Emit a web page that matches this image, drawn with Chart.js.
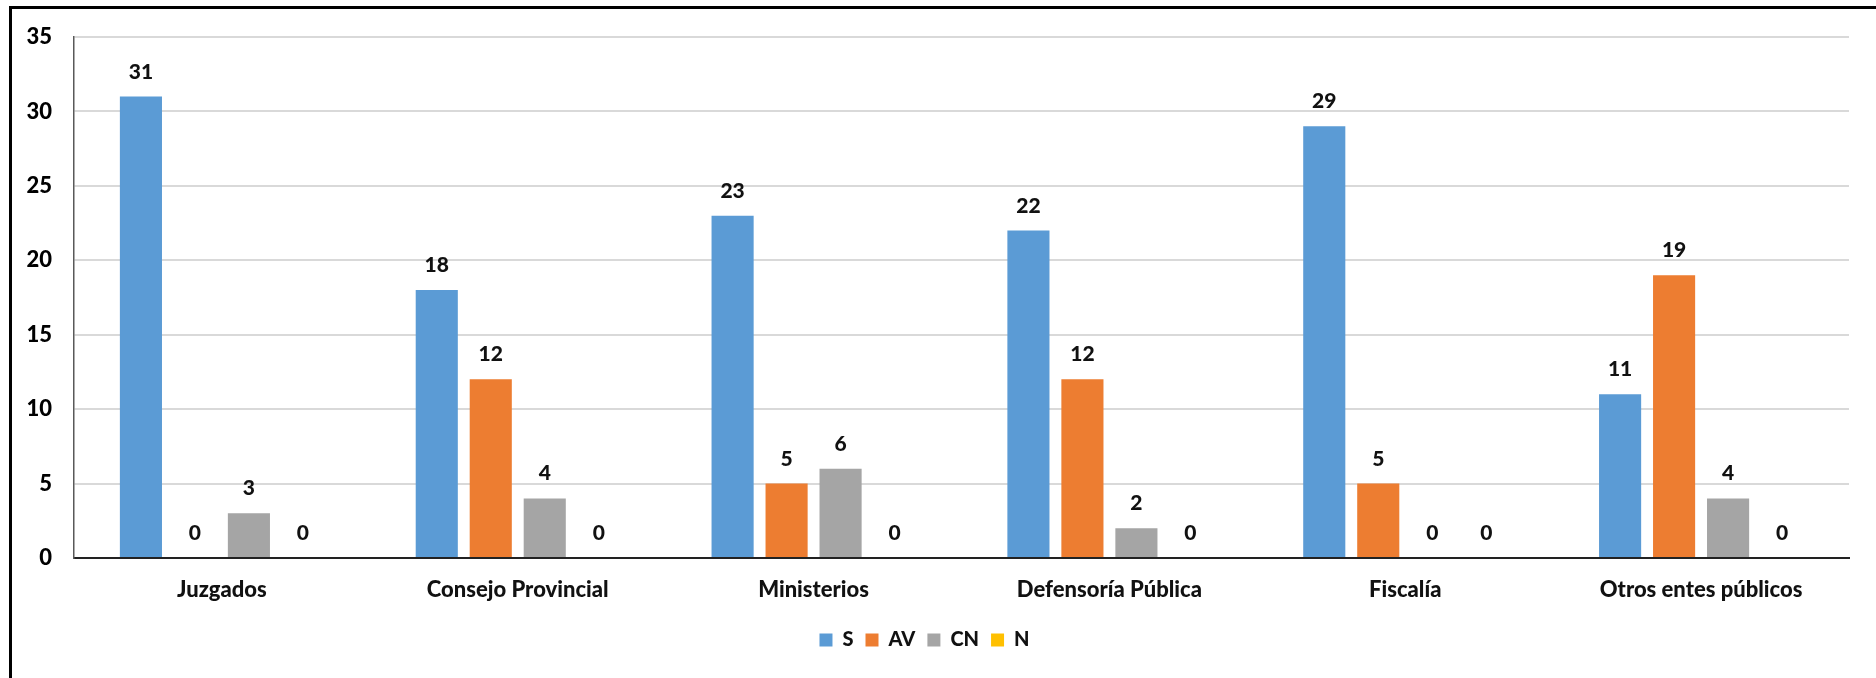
<!DOCTYPE html>
<html>
<head>
<meta charset="utf-8">
<script src="https://cdn.jsdelivr.net/npm/chart.js@4/dist/chart.umd.min.js"></script>
<style>
    body { margin: 0; background: #fff; overflow: hidden; }
    #frame {
        position: absolute; left: 9px; top: 6px;
        width: 2000px; height: 1000px;
        border: 3px solid #000;
    }
    #wrap { position: absolute; left: 0; top: 0; width: 1876px; height: 678px; }
</style>
</head>
<body>
<div id="frame"></div>
<div id="wrap"><canvas id="chart"></canvas></div>
<script>
// Categories and series
const categories = ['Juzgados', 'Consejo Provincial', 'Ministerios', 'Defensoría Pública', 'Fiscalía', 'Otros entes públicos'];
const valuesS  = [31, 18, 23, 22, 29, 11];
const valuesAV = [0, 12, 5, 12, 5, 19];
const valuesCN = [3, 4, 6, 2, 0, 4];
const valuesN  = [0, 0, 0, 0, 0, 0];
const yTicks = [0, 5, 10, 15, 20, 25, 30, 35];

const fontFamily = 'Lato, "Open Sans", sans-serif';

// Draws the value above each bar (no datalabels plugin available offline)
const valueLabels = {
    id: 'valueLabels',
    afterDatasetsDraw(chart) {
        const ctx = chart.ctx;
        ctx.save();
        ctx.font = '900 21px ' + fontFamily;
        ctx.fillStyle = '#111';
        ctx.textAlign = 'center';
        ctx.textBaseline = 'alphabetic';
        chart.data.datasets.forEach((ds, i) => {
            const meta = chart.getDatasetMeta(i);
            meta.data.forEach((bar, j) => {
                ctx.fillText(String(ds.data[j]), bar.x, bar.y - 18);
            });
        });
        ctx.restore();
    }
};

const barStyle = { barPercentage: 0.78, categoryPercentage: 0.73 };

new Chart(document.getElementById('chart'), {
    type: 'bar',
    data: {
        labels: categories,
        datasets: [
            { label: 'S',  data: valuesS,  backgroundColor: '#5B9BD5', ...barStyle },
            { label: 'AV', data: valuesAV, backgroundColor: '#ED7D31', ...barStyle },
            { label: 'CN', data: valuesCN, backgroundColor: '#A5A5A5', ...barStyle },
            { label: 'N',  data: valuesN,  backgroundColor: '#FFC000', ...barStyle }
        ]
    },
    options: {
        responsive: true,
        maintainAspectRatio: false,
        animation: false,
        layout: { padding: { top: 37, right: 27, bottom: 18, left: 0 } },
        scales: {
            x: {
                grid: { display: false, drawTicks: false },
                border: { color: '#222', width: 2 },
                ticks: {
                    color: '#111',
                    padding: 19,
                    font: { family: fontFamily, size: 22, weight: '900' }
                },
                afterFit(scale) { scale.height = 60; }
            },
            y: {
                min: 0,
                max: 35,
                afterBuildTicks(scale) { scale.ticks = yTicks.map(v => ({ value: v })); },
                grid: { color: '#d9d9d9', lineWidth: 2, drawTicks: false },
                border: { color: '#595959', width: 1.5 },
                ticks: {
                    color: '#000',
                    padding: 22,
                    font: { family: fontFamily, size: 22, weight: '900' }
                },
                afterFit(scale) { scale.width = 74; }
            }
        },
        plugins: {
            legend: {
                position: 'bottom',
                labels: {
                    boxWidth: 13,
                    boxHeight: 13,
                    padding: 12,
                    color: '#111',
                    font: { family: fontFamily, size: 20, weight: '900' }
                }
            },
            tooltip: { enabled: false }
        }
    },
    plugins: [valueLabels]
});
</script>
</body>
</html>
